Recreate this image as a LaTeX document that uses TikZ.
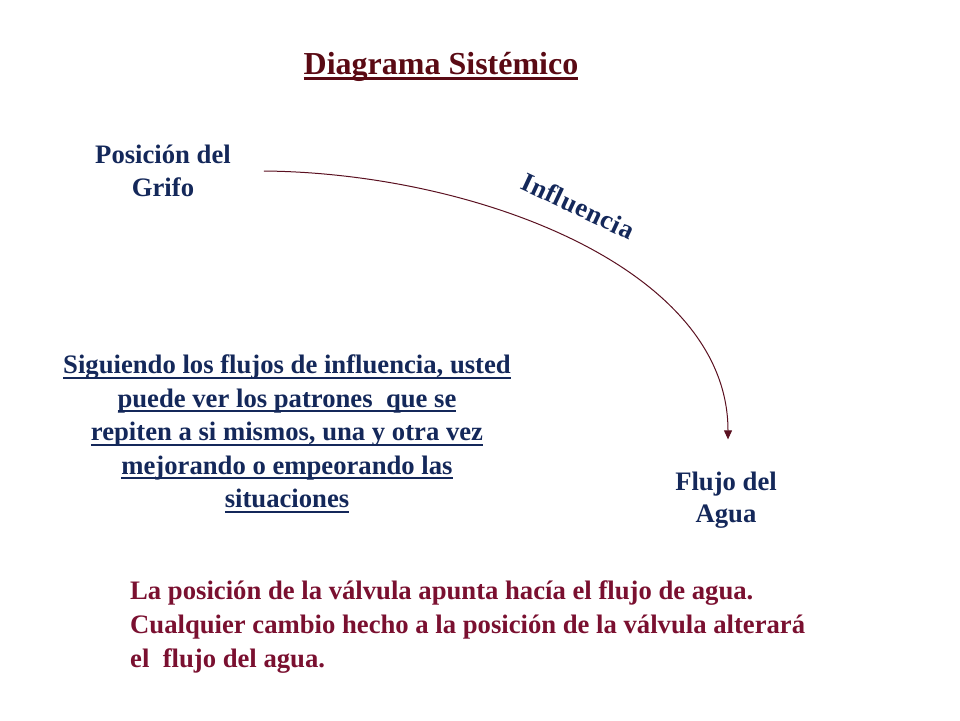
\documentclass[tikz,border=0pt]{standalone}
\usepackage{fontspec}
\setmainfont{Liberation Serif}
\usetikzlibrary{arrows.meta}
\definecolor{navy}{HTML}{14285A}
\definecolor{titlered}{HTML}{5A0A14}
\definecolor{bodyred}{HTML}{7A1030}
\definecolor{linered}{HTML}{5A1020}
\newcommand\myul[1]{\setbox0=\hbox{#1}\rlap{\rule[-5pt]{\wd0}{2.2pt}}\box0}
\begin{document}
\begin{tikzpicture}[x=1pt,y=-1pt,
  lbl/.style={font=\fontsize{26.67}{32.5}\selectfont\bfseries, text=navy, align=center, inner sep=0pt},
  para/.style={font=\fontsize{26.67}{33.5}\selectfont\bfseries, text=navy, align=center, inner sep=0pt},
  titlestyle/.style={font=\fontsize{32}{38}\selectfont\bfseries, text=titlered, inner sep=0pt},
  notestyle/.style={font=\fontsize{26.67}{34}\selectfont\bfseries, text=bodyred, align=left, inner sep=0pt},
  conn/.style={draw=linered, line width=1pt, -{Triangle[length=9pt,width=8pt]}}]
\useasboundingbox (0,0) rectangle (960,720);
\node[titlestyle] (title) at (441,67) {\myul{Diagrama Sistémico}};
\node[lbl] (grifo) at (163,171) {Posición del\\Grifo};
\node[lbl] (agua) at (726,500) {Flujo del\\Agua};
\draw[conn] ([xshift=33pt]grifo.east) .. controls (475,173) and (728,268) .. ([xshift=2pt,yshift=32pt]agua.north);
\node[lbl, rotate=-25] (infl) at (578,206) {\addfontfeature{LetterSpace=2.5}Influencia};
\node[para] (para) at (287,434) {\myul{Siguiendo los flujos de influencia, usted}\\
\myul{puede ver los patrones\ \ que se}\\
\myul{repiten a si mismos, una y otra vez}\\
\myul{mejorando o empeorando las}\\
\myul{situaciones}};
\node[notestyle, anchor=west] (note) at (130,627) {La posición de la válvula apunta hacía el flujo de agua.\\
Cualquier cambio hecho a la posición de la válvula alterará\\
el\ \ flujo del agua.};
\end{tikzpicture}
\end{document}
